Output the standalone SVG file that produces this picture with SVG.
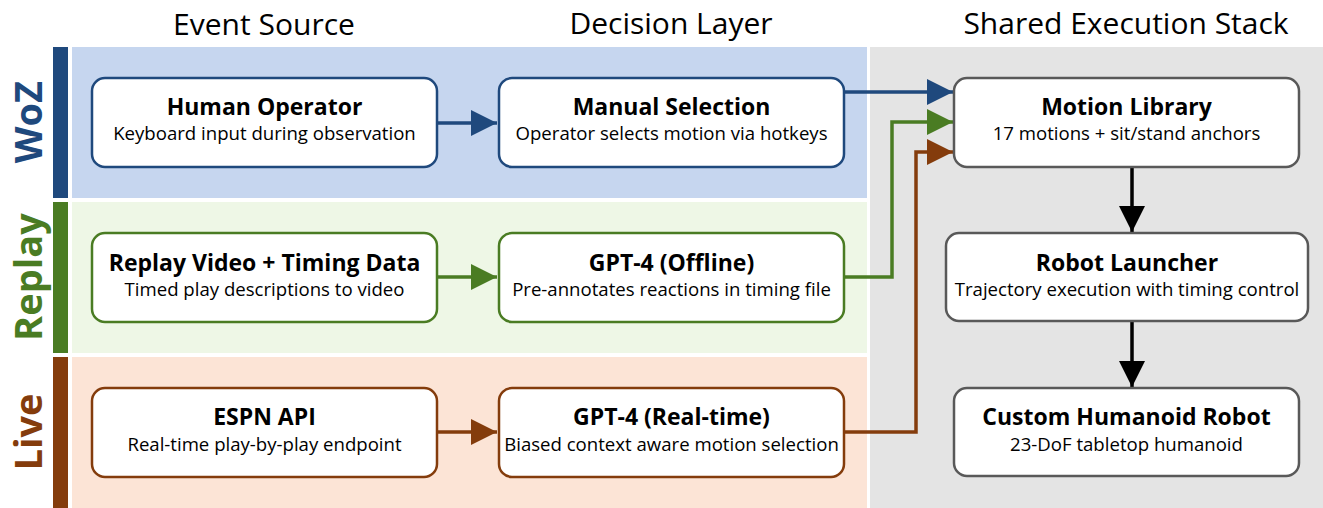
<svg xmlns="http://www.w3.org/2000/svg" width="1323" height="508" viewBox="0 0 1323 508">
<style>
.hdr{font-family:"Open Sans","Liberation Sans",sans-serif;font-size:30px;fill:#000;text-anchor:middle}
.lane{font-family:"Open Sans","Liberation Sans",sans-serif;font-size:38px;font-weight:bold;text-anchor:middle}
.t{font-family:"Open Sans","Liberation Sans",sans-serif;font-size:23px;font-weight:bold;fill:#000;text-anchor:middle}
.s{font-family:"Open Sans","Liberation Sans",sans-serif;font-size:18.6px;fill:#000;text-anchor:middle}
.node{fill:#fff;stroke-width:2.5}
.blue{stroke:#1F497D}
.green{stroke:#4A7C23}
.brown{stroke:#843C0C}
.gray{stroke:#595959}
.c{fill:none;stroke-width:3.5}
</style>
<defs>
<marker id="ab" markerUnits="userSpaceOnUse" markerWidth="26" markerHeight="26" refX="26" refY="13" orient="auto"><path d="M0,0 L26,13 L0,26 Z" fill="#1F497D"/></marker>
<marker id="ag" markerUnits="userSpaceOnUse" markerWidth="26" markerHeight="26" refX="26" refY="13" orient="auto"><path d="M0,0 L26,13 L0,26 Z" fill="#4A7C23"/></marker>
<marker id="ar" markerUnits="userSpaceOnUse" markerWidth="26" markerHeight="26" refX="26" refY="13" orient="auto"><path d="M0,0 L26,13 L0,26 Z" fill="#843C0C"/></marker>
<marker id="ak" markerUnits="userSpaceOnUse" markerWidth="26" markerHeight="26" refX="26" refY="13" orient="auto"><path d="M0,0 L26,13 L0,26 Z" fill="#000"/></marker>
</defs>
<rect width="1323" height="508" fill="#fff"/>
<g id="backgrounds">
<rect x="870" y="47" width="453" height="461" fill="#E4E4E4"/>
<rect x="72" y="47" width="795" height="151" fill="#C6D6EF"/>
<rect x="72" y="202" width="795" height="151" fill="#EEF7E6"/>
<rect x="72" y="357" width="795" height="151" fill="#FCE4D6"/>
<rect x="53" y="47" width="15" height="151" fill="#1F497D"/>
<rect x="53" y="202" width="15" height="151" fill="#4A7C23"/>
<rect x="53" y="357" width="15" height="151" fill="#843C0C"/>
</g>
<g id="headers">
<text class="hdr" x="264" y="35">Event Source</text>
<text class="hdr" x="671" y="34">Decision Layer</text>
<text class="hdr" x="1126" y="34">Shared Execution Stack</text>
</g>
<g id="lane-labels">
<text class="lane" fill="#1F497D" transform="translate(42,122) rotate(-90)">WoZ</text>
<text class="lane" fill="#4A7C23" transform="translate(42,277) rotate(-90)">Replay</text>
<text class="lane" fill="#843C0C" transform="translate(42,432) rotate(-90)">Live</text>
</g>
<g id="connectors">
<path class="c blue" d="M437,123 H497" marker-end="url(#ab)"/>
<path class="c blue" d="M844,92 H953" marker-end="url(#ab)"/>
<path class="c green" d="M437,277 H497" marker-end="url(#ag)"/>
<path class="c green" d="M844,277 H892 V122 H953" marker-end="url(#ag)"/>
<path class="c brown" d="M437,432 H497" marker-end="url(#ar)"/>
<path class="c brown" d="M844,432 H916 V152 H953" marker-end="url(#ar)"/>
<path class="c" stroke="#000" d="M1132,167 V232" marker-end="url(#ak)"/>
<path class="c" stroke="#000" d="M1132,321 V387" marker-end="url(#ak)"/>
</g>
<g id="human-operator">
<rect class="node blue" x="92" y="78" width="345" height="89" rx="13"/>
<text class="t" x="264.5" y="115">Human Operator</text>
<text class="s" x="264.5" y="140">Keyboard input during observation</text>
</g>
<g id="manual-selection">
<rect class="node blue" x="499" y="78" width="345" height="89" rx="13"/>
<text class="t" x="671.5" y="115">Manual Selection</text>
<text class="s" x="671.5" y="140">Operator selects motion via hotkeys</text>
</g>
<g id="motion-library">
<rect class="node gray" x="954" y="78" width="345" height="89" rx="13"/>
<text class="t" x="1126.5" y="115">Motion Library</text>
<text class="s" x="1126.5" y="140">17 motions + sit/stand anchors</text>
</g>
<g id="replay-video">
<rect class="node green" x="92" y="233" width="345" height="89" rx="13"/>
<text class="t" x="264.5" y="271">Replay Video + Timing Data</text>
<text class="s" x="264.5" y="296">Timed play descriptions to video</text>
</g>
<g id="gpt4-offline">
<rect class="node green" x="499" y="233" width="345" height="89" rx="13"/>
<text class="t" x="671.5" y="271">GPT-4 (Offline)</text>
<text class="s" x="671.5" y="296">Pre-annotates reactions in timing file</text>
</g>
<g id="robot-launcher">
<rect class="node gray" x="946" y="233" width="362" height="88" rx="13"/>
<text class="t" x="1127" y="271">Robot Launcher</text>
<text class="s" x="1127" y="296">Trajectory execution with timing control</text>
</g>
<g id="espn-api">
<rect class="node brown" x="92" y="388" width="345" height="89" rx="13"/>
<text class="t" x="264.5" y="425">ESPN API</text>
<text class="s" x="264.5" y="451">Real-time play-by-play endpoint</text>
</g>
<g id="gpt4-realtime">
<rect class="node brown" x="499" y="388" width="345" height="89" rx="13"/>
<text class="t" x="671.5" y="425">GPT-4 (Real-time)</text>
<text class="s" x="671.5" y="451">Biased context aware motion selection</text>
</g>
<g id="humanoid-robot">
<rect class="node gray" x="954" y="388" width="345" height="88" rx="13"/>
<text class="t" x="1126.5" y="425">Custom Humanoid Robot</text>
<text class="s" x="1126.5" y="451">23-DoF tabletop humanoid</text>
</g>
</svg>
